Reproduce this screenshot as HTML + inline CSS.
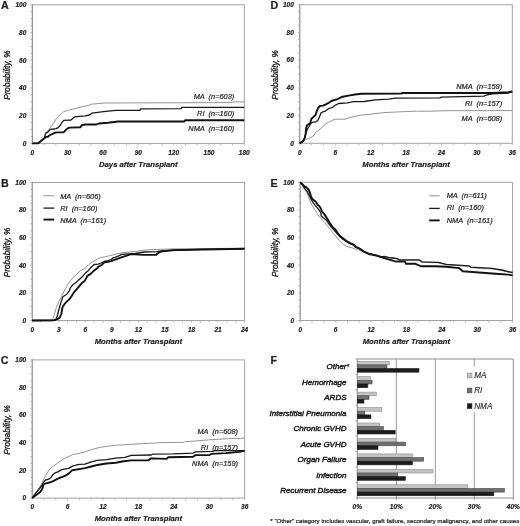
<!DOCTYPE html>
<html><head><meta charset="utf-8"><style>
html,body{margin:0;padding:0;background:#fff;}
svg{display:block;filter:blur(0.3px);}
text{font-family:"Liberation Sans",sans-serif;fill:#1a1a1a;white-space:pre;}
.tl{font-size:6.5px;font-weight:bold;font-style:italic;stroke:#1a1a1a;stroke-width:0.18px;}
.xt{font-size:7.7px;font-weight:bold;font-style:italic;stroke:#1a1a1a;stroke-width:0.18px;}
.yt{font-size:8.2px;font-style:italic;stroke:#1a1a1a;stroke-width:0.3px;}
.pl{font-size:10.7px;font-weight:bold;stroke:#1a1a1a;stroke-width:0.2px;}
.lg{font-size:7.4px;font-style:italic;fill:#222;stroke:#222;stroke-width:0.2px;}
.cl{font-size:8.0px;font-style:italic;stroke:#1a1a1a;stroke-width:0.45px;}
.fl{font-size:8.2px;font-style:italic;fill:#222;stroke:#222;stroke-width:0.12px;}
.fn{font-size:6.22px;stroke:#1a1a1a;stroke-width:0.22px;}
</style></head><body>
<svg width="520" height="526" viewBox="0 0 520 526">
<path d="M32.3,143.4H244.3V4.8H32.3" fill="none" stroke="#a2a2a2" stroke-width="1"/>
<path d="M32.3,143.9V4.3" fill="none" stroke="#828282" stroke-width="1.1"/>
<path d="M30.3,143.40H32.3M30.3,136.47H32.3M30.3,129.54H32.3M30.3,122.61H32.3M30.3,115.68H32.3M30.3,108.75H32.3M30.3,101.82H32.3M30.3,94.89H32.3M30.3,87.96H32.3M30.3,81.03H32.3M30.3,74.10H32.3M30.3,67.17H32.3M30.3,60.24H32.3M30.3,53.31H32.3M30.3,46.38H32.3M30.3,39.45H32.3M30.3,32.52H32.3M30.3,25.59H32.3M30.3,18.66H32.3M30.3,11.73H32.3M30.3,4.80H32.3M32.30,143.4V145.4M44.08,143.4V145.4M55.86,143.4V145.4M67.63,143.4V145.4M79.41,143.4V145.4M91.19,143.4V145.4M102.97,143.4V145.4M114.74,143.4V145.4M126.52,143.4V145.4M138.30,143.4V145.4M150.08,143.4V145.4M161.86,143.4V145.4M173.63,143.4V145.4M185.41,143.4V145.4M197.19,143.4V145.4M208.97,143.4V145.4M220.74,143.4V145.4M232.52,143.4V145.4M244.30,143.4V145.4" stroke="#a8a8a8" stroke-width="0.8" fill="none"/>
<text class="tl" x="26.3" y="145.70" text-anchor="end">0</text>
<text class="tl" x="26.3" y="117.98" text-anchor="end">20</text>
<text class="tl" x="26.3" y="90.26" text-anchor="end">40</text>
<text class="tl" x="26.3" y="62.54" text-anchor="end">60</text>
<text class="tl" x="26.3" y="34.82" text-anchor="end">80</text>
<text class="tl" x="26.3" y="7.10" text-anchor="end">100</text>
<text class="tl" x="32.30" y="154.70" text-anchor="middle">0</text>
<text class="tl" x="67.63" y="154.70" text-anchor="middle">30</text>
<text class="tl" x="102.97" y="154.70" text-anchor="middle">60</text>
<text class="tl" x="138.30" y="154.70" text-anchor="middle">90</text>
<text class="tl" x="173.63" y="154.70" text-anchor="middle">120</text>
<text class="tl" x="208.97" y="154.70" text-anchor="middle">150</text>
<text class="tl" x="244.30" y="154.70" text-anchor="middle">180</text>
<text class="xt" x="138.3" y="166.7" text-anchor="middle">Days after Transplant</text>
<text class="yt" transform="translate(10.1,75.1) rotate(-90)" text-anchor="middle">Probability, %</text>
<path d="M32.2,320.5H244.6V182.5H32.2" fill="none" stroke="#a2a2a2" stroke-width="1"/>
<path d="M32.2,321.0V182.0" fill="none" stroke="#828282" stroke-width="1.1"/>
<path d="M30.2,320.50H32.2M30.2,313.60H32.2M30.2,306.70H32.2M30.2,299.80H32.2M30.2,292.90H32.2M30.2,286.00H32.2M30.2,279.10H32.2M30.2,272.20H32.2M30.2,265.30H32.2M30.2,258.40H32.2M30.2,251.50H32.2M30.2,244.60H32.2M30.2,237.70H32.2M30.2,230.80H32.2M30.2,223.90H32.2M30.2,217.00H32.2M30.2,210.10H32.2M30.2,203.20H32.2M30.2,196.30H32.2M30.2,189.40H32.2M30.2,182.50H32.2M32.20,320.5V322.5M41.05,320.5V322.5M49.90,320.5V322.5M58.75,320.5V322.5M67.60,320.5V322.5M76.45,320.5V322.5M85.30,320.5V322.5M94.15,320.5V322.5M103.00,320.5V322.5M111.85,320.5V322.5M120.70,320.5V322.5M129.55,320.5V322.5M138.40,320.5V322.5M147.25,320.5V322.5M156.10,320.5V322.5M164.95,320.5V322.5M173.80,320.5V322.5M182.65,320.5V322.5M191.50,320.5V322.5M200.35,320.5V322.5M209.20,320.5V322.5M218.05,320.5V322.5M226.90,320.5V322.5M235.75,320.5V322.5M244.60,320.5V322.5" stroke="#a8a8a8" stroke-width="0.8" fill="none"/>
<text class="tl" x="26.2" y="322.80" text-anchor="end">0</text>
<text class="tl" x="26.2" y="295.20" text-anchor="end">20</text>
<text class="tl" x="26.2" y="267.60" text-anchor="end">40</text>
<text class="tl" x="26.2" y="240.00" text-anchor="end">60</text>
<text class="tl" x="26.2" y="212.40" text-anchor="end">80</text>
<text class="tl" x="26.2" y="184.80" text-anchor="end">100</text>
<text class="tl" x="32.20" y="331.80" text-anchor="middle">0</text>
<text class="tl" x="58.75" y="331.80" text-anchor="middle">3</text>
<text class="tl" x="85.30" y="331.80" text-anchor="middle">6</text>
<text class="tl" x="111.85" y="331.80" text-anchor="middle">9</text>
<text class="tl" x="138.40" y="331.80" text-anchor="middle">12</text>
<text class="tl" x="164.95" y="331.80" text-anchor="middle">15</text>
<text class="tl" x="191.50" y="331.80" text-anchor="middle">18</text>
<text class="tl" x="218.05" y="331.80" text-anchor="middle">21</text>
<text class="tl" x="244.60" y="331.80" text-anchor="middle">24</text>
<text class="xt" x="138.4" y="343.8" text-anchor="middle">Months after Transplant</text>
<text class="yt" transform="translate(10.0,252.5) rotate(-90)" text-anchor="middle">Probability, %</text>
<path d="M32.2,498.1H244.7V359.9H32.2" fill="none" stroke="#a2a2a2" stroke-width="1"/>
<path d="M32.2,498.6V359.4" fill="none" stroke="#828282" stroke-width="1.1"/>
<path d="M30.2,498.10H32.2M30.2,491.19H32.2M30.2,484.28H32.2M30.2,477.37H32.2M30.2,470.46H32.2M30.2,463.55H32.2M30.2,456.64H32.2M30.2,449.73H32.2M30.2,442.82H32.2M30.2,435.91H32.2M30.2,429.00H32.2M30.2,422.09H32.2M30.2,415.18H32.2M30.2,408.27H32.2M30.2,401.36H32.2M30.2,394.45H32.2M30.2,387.54H32.2M30.2,380.63H32.2M30.2,373.72H32.2M30.2,366.81H32.2M30.2,359.90H32.2M32.20,498.1V500.1M44.01,498.1V500.1M55.81,498.1V500.1M67.62,498.1V500.1M79.42,498.1V500.1M91.23,498.1V500.1M103.03,498.1V500.1M114.84,498.1V500.1M126.64,498.1V500.1M138.45,498.1V500.1M150.26,498.1V500.1M162.06,498.1V500.1M173.87,498.1V500.1M185.67,498.1V500.1M197.48,498.1V500.1M209.28,498.1V500.1M221.09,498.1V500.1M232.89,498.1V500.1M244.70,498.1V500.1" stroke="#a8a8a8" stroke-width="0.8" fill="none"/>
<text class="tl" x="26.2" y="500.40" text-anchor="end">0</text>
<text class="tl" x="26.2" y="472.76" text-anchor="end">20</text>
<text class="tl" x="26.2" y="445.12" text-anchor="end">40</text>
<text class="tl" x="26.2" y="417.48" text-anchor="end">60</text>
<text class="tl" x="26.2" y="389.84" text-anchor="end">80</text>
<text class="tl" x="26.2" y="362.20" text-anchor="end">100</text>
<text class="tl" x="32.20" y="509.40" text-anchor="middle">0</text>
<text class="tl" x="67.62" y="509.40" text-anchor="middle">6</text>
<text class="tl" x="103.03" y="509.40" text-anchor="middle">12</text>
<text class="tl" x="138.45" y="509.40" text-anchor="middle">18</text>
<text class="tl" x="173.87" y="509.40" text-anchor="middle">24</text>
<text class="tl" x="209.28" y="509.40" text-anchor="middle">30</text>
<text class="tl" x="244.70" y="509.40" text-anchor="middle">36</text>
<text class="xt" x="138.4" y="521.4" text-anchor="middle">Months after Transplant</text>
<text class="yt" transform="translate(10.0,430.0) rotate(-90)" text-anchor="middle">Probability, %</text>
<path d="M299.8,143.3H512.3V4.7H299.8" fill="none" stroke="#a2a2a2" stroke-width="1"/>
<path d="M299.8,143.8V4.2" fill="none" stroke="#828282" stroke-width="1.1"/>
<path d="M297.8,143.30H299.8M297.8,136.37H299.8M297.8,129.44H299.8M297.8,122.51H299.8M297.8,115.58H299.8M297.8,108.65H299.8M297.8,101.72H299.8M297.8,94.79H299.8M297.8,87.86H299.8M297.8,80.93H299.8M297.8,74.00H299.8M297.8,67.07H299.8M297.8,60.14H299.8M297.8,53.21H299.8M297.8,46.28H299.8M297.8,39.35H299.8M297.8,32.42H299.8M297.8,25.49H299.8M297.8,18.56H299.8M297.8,11.63H299.8M297.8,4.70H299.8M299.80,143.3V145.3M311.61,143.3V145.3M323.41,143.3V145.3M335.22,143.3V145.3M347.02,143.3V145.3M358.83,143.3V145.3M370.63,143.3V145.3M382.44,143.3V145.3M394.24,143.3V145.3M406.05,143.3V145.3M417.86,143.3V145.3M429.66,143.3V145.3M441.47,143.3V145.3M453.27,143.3V145.3M465.08,143.3V145.3M476.88,143.3V145.3M488.69,143.3V145.3M500.49,143.3V145.3M512.30,143.3V145.3" stroke="#a8a8a8" stroke-width="0.8" fill="none"/>
<text class="tl" x="293.8" y="145.60" text-anchor="end">0</text>
<text class="tl" x="293.8" y="117.88" text-anchor="end">20</text>
<text class="tl" x="293.8" y="90.16" text-anchor="end">40</text>
<text class="tl" x="293.8" y="62.44" text-anchor="end">60</text>
<text class="tl" x="293.8" y="34.72" text-anchor="end">80</text>
<text class="tl" x="293.8" y="7.00" text-anchor="end">100</text>
<text class="tl" x="299.80" y="154.60" text-anchor="middle">0</text>
<text class="tl" x="335.22" y="154.60" text-anchor="middle">6</text>
<text class="tl" x="370.63" y="154.60" text-anchor="middle">12</text>
<text class="tl" x="406.05" y="154.60" text-anchor="middle">18</text>
<text class="tl" x="441.47" y="154.60" text-anchor="middle">24</text>
<text class="tl" x="476.88" y="154.60" text-anchor="middle">30</text>
<text class="tl" x="512.30" y="154.60" text-anchor="middle">36</text>
<text class="xt" x="406.0" y="166.6" text-anchor="middle">Months after Transplant</text>
<text class="yt" transform="translate(277.6,75.0) rotate(-90)" text-anchor="middle">Probability, %</text>
<path d="M300.2,320.5H512.6V182.3H300.2" fill="none" stroke="#a2a2a2" stroke-width="1"/>
<path d="M300.2,321.0V181.8" fill="none" stroke="#828282" stroke-width="1.1"/>
<path d="M298.2,320.50H300.2M298.2,313.59H300.2M298.2,306.68H300.2M298.2,299.77H300.2M298.2,292.86H300.2M298.2,285.95H300.2M298.2,279.04H300.2M298.2,272.13H300.2M298.2,265.22H300.2M298.2,258.31H300.2M298.2,251.40H300.2M298.2,244.49H300.2M298.2,237.58H300.2M298.2,230.67H300.2M298.2,223.76H300.2M298.2,216.85H300.2M298.2,209.94H300.2M298.2,203.03H300.2M298.2,196.12H300.2M298.2,189.21H300.2M298.2,182.30H300.2M300.20,320.5V322.5M312.00,320.5V322.5M323.80,320.5V322.5M335.60,320.5V322.5M347.40,320.5V322.5M359.20,320.5V322.5M371.00,320.5V322.5M382.80,320.5V322.5M394.60,320.5V322.5M406.40,320.5V322.5M418.20,320.5V322.5M430.00,320.5V322.5M441.80,320.5V322.5M453.60,320.5V322.5M465.40,320.5V322.5M477.20,320.5V322.5M489.00,320.5V322.5M500.80,320.5V322.5M512.60,320.5V322.5" stroke="#a8a8a8" stroke-width="0.8" fill="none"/>
<text class="tl" x="294.2" y="322.80" text-anchor="end">0</text>
<text class="tl" x="294.2" y="295.16" text-anchor="end">20</text>
<text class="tl" x="294.2" y="267.52" text-anchor="end">40</text>
<text class="tl" x="294.2" y="239.88" text-anchor="end">60</text>
<text class="tl" x="294.2" y="212.24" text-anchor="end">80</text>
<text class="tl" x="294.2" y="184.60" text-anchor="end">100</text>
<text class="tl" x="300.20" y="331.80" text-anchor="middle">0</text>
<text class="tl" x="335.60" y="331.80" text-anchor="middle">6</text>
<text class="tl" x="371.00" y="331.80" text-anchor="middle">12</text>
<text class="tl" x="406.40" y="331.80" text-anchor="middle">18</text>
<text class="tl" x="441.80" y="331.80" text-anchor="middle">24</text>
<text class="tl" x="477.20" y="331.80" text-anchor="middle">30</text>
<text class="tl" x="512.60" y="331.80" text-anchor="middle">36</text>
<text class="xt" x="406.4" y="343.8" text-anchor="middle">Months after Transplant</text>
<text class="yt" transform="translate(278.0,252.4) rotate(-90)" text-anchor="middle">Probability, %</text>
<polyline points="32.3,143.4 38.2,143.2 44.4,138.3 45.5,134.5 46.5,132.1 48.5,130 51.3,126.5 54.1,122.4 56.2,118.9 58.9,116.2 62.4,112.7 64,111.5 69.2,110 76.2,108.3 83.1,106.5 88,105.5 91.2,104.2 105,103.0 160,102.8 232,102.6 232.5,101.9 244.3,101.9" fill="none" stroke="#939393" stroke-width="1.0" stroke-linejoin="round"/>
<polyline points="32.3,143.4 38.2,143.2 44.4,138.3 45.1,134.9 46.1,132.8 47.9,132.1 48.9,130.7 50.6,129.3 53.4,129 56.2,128.6 58.2,127.6 60.3,125.2 62,122.4 63.8,120.3 71,120 74.4,116.9 79.6,116.3 85,115.8 89.6,115 91.9,113.2 103.5,111.6 115.8,110.4 140,110.4 140.8,108.8 181.2,108.6 181.8,107.4 244.3,107.4" fill="none" stroke="#1a1a1a" stroke-width="1.3" stroke-linejoin="round"/>
<polyline points="32.3,143.4 38.2,143.2 44.4,138.3 45.8,136.9 47.9,136.9 49.2,135.5 52,134.2 54.8,132.8 56.9,132.4 63.1,132.4 64.5,131.4 66.5,129.3 68.6,127.9 70,127.6 80.2,127.3 81.9,125.2 85,124.5 96.5,124.5 98.8,123.5 108,122.7 118.1,121.5 184.5,121.5 185,120.3 244.3,120.3" fill="none" stroke="#111" stroke-width="1.9" stroke-linejoin="round"/>
<polyline points="32.2,320.5 52.7,320.3 53,318.4 54.5,313.5 56.4,307.5 58.9,301.6 61.9,295.7 64.8,289.8 68.8,282.8 72.8,277.9 76.7,274 80.7,270.5 85,268.4 88.8,264.5 92.7,261.8 96.5,259.5 100.4,257.6 105,256.8 109.6,255.7 115,254.4 120.8,253 129.4,252 136.2,251.3 143.8,250.1 153.5,249.6 165,249.1 175,248.9 200,248.6 244.6,248.2" fill="none" stroke="#939393" stroke-width="1.0" stroke-linejoin="round"/>
<polyline points="32.2,320.5 55,320.3 56,319.4 57.4,315.5 58.9,309.5 60.9,302.6 62.9,296.7 66.8,294.2 69.3,290.8 70.3,287.8 72.8,284.8 75.7,282.8 78.7,279.9 82.6,276.4 85,273.6 88.1,270.8 91.2,267.2 94.2,264.5 98.1,264.2 101.2,263 104.2,261.5 108.1,260.7 111.2,259.5 113.5,257.6 115,257.3 118.8,255.9 121.7,254.4 128.5,253.9 135.2,253.5 141,252.5 143.8,252 157.3,251.7 159.2,251.1 165,250.6 175,249.8 182,250 200,249.3 244.6,248.6" fill="none" stroke="#1a1a1a" stroke-width="1.3" stroke-linejoin="round"/>
<polyline points="32.2,320.5 54,320.2 57.9,318.9 59.9,317.4 61.4,313.5 62.4,307.5 64.8,303.6 67.8,300.6 69.8,298.7 71.8,295.7 73.7,292.7 76.2,289.8 78.7,286.8 81.6,283.3 84.6,280.9 86.5,277.6 87.3,275.9 90.4,274.2 93.5,271.1 96.5,268.8 98.8,266.5 101.9,264.9 103.5,263 105,262.2 108.1,261.8 111.2,261.1 115,259.7 118.8,258.3 122.7,256.8 127.5,255.4 130.4,254.4 135.2,254.4 142.9,254.9 156.3,254.9 157.3,253.5 159.2,252.5 161.2,251.5 165,251.1 175,250.1 244.6,248.8" fill="none" stroke="#111" stroke-width="1.9" stroke-linejoin="round"/>
<polyline points="32.2,498.1 36.8,491.5 40,486.8 42.4,482 44.8,477.2 48,471.6 51.2,467.6 56,464.4 60,461.2 65.5,458 72.6,454.6 79.3,453.3 85,451.9 91.2,449.6 100.4,447.3 112.7,445.5 128.1,444.5 143.5,443.6 160,442.7 184,442.3 184.6,441.6 193,441.2 209.6,439.8 226.1,438.8 244.7,438.1" fill="none" stroke="#939393" stroke-width="1.0" stroke-linejoin="round"/>
<polyline points="32.2,498.1 35.2,494 38.4,490 41.6,486 43.6,482 45.6,480 48.8,479.2 51.2,477.2 52.8,474.8 55.2,472.8 58.4,471.6 61.6,469.6 65.5,468.8 68.7,468.4 72,466.4 73.9,465.7 79.3,464.4 85,464.2 91.2,461.9 97.3,460.4 106.5,459.6 115.8,458.1 125,457.3 131.2,455.3 151.2,455 152.7,454.2 173.2,453.9 193,453.1 195.5,451.9 212.9,451.4 214.5,450.6 236,450.6 244.7,450.6" fill="none" stroke="#1a1a1a" stroke-width="1.3" stroke-linejoin="round"/>
<polyline points="32.2,498.1 34.4,496.3 37.6,494 40,492.3 41.6,490 42.8,487.6 43.2,485.2 44.8,483.6 48,482.8 51.2,482 53.6,480.8 56,479.6 59.2,478 62.4,476.8 65.5,475.6 68.7,473.6 72,470.4 73.9,470 80.6,468.9 85,468.1 91.2,466.5 97.3,465 106.5,463.5 115.8,462.7 123.5,461.2 131.2,460.4 148.1,460.4 151.2,458.4 166.6,458.9 168.3,457.2 193,456.7 195.5,455.1 209.6,455.1 211.2,453.9 226.1,453.1 239.3,451.9 242.6,451.1 244.7,450.6" fill="none" stroke="#111" stroke-width="1.9" stroke-linejoin="round"/>
<polyline points="299.8,143.3 303.1,141.1 307.4,138.9 310.8,137.6 313.4,135.9 315.1,133.4 317.7,130.8 321.1,128.2 325,124.5 329.6,121.5 335,119.2 345,119.2 348.1,118.1 355.8,116.2 361.2,115 367.3,114.6 382.7,112.7 398.1,111.9 416.5,111.2 430,111.2 446,110.7 512.3,110.6" fill="none" stroke="#939393" stroke-width="1.0" stroke-linejoin="round"/>
<polyline points="299.8,143.3 303.1,141.1 304.8,137.6 306.1,132.5 307.4,129.1 309.1,126.5 310.8,123.5 312.5,122.2 315.1,122.2 317.7,120.5 319.4,117.1 321.1,112.8 323.7,111.5 325.4,111.1 328.8,108.5 332.7,107.3 335,105.4 338.7,103.5 347.4,102.8 353.6,101.6 364.2,101.5 375,99.9 388.8,99.2 395,98.1 439.8,97.9 441.4,97.1 483.9,96.2 487.2,94.9 492.1,93.8 508.4,93 512.3,91.7" fill="none" stroke="#1a1a1a" stroke-width="1.3" stroke-linejoin="round"/>
<polyline points="299.8,143.3 303.1,141.1 304.8,137.6 305.7,133.4 306.1,128.2 307,125.2 308.3,124.4 310.4,123.1 310.8,120.5 311.7,118.4 313.8,116.7 315.5,115 316.8,111.1 318.1,108.1 319.8,106 322.8,105.6 325.4,104.7 327.5,103.4 330,102.1 331.3,101 337.5,99.1 342.4,96.7 349.9,95.4 355,94.5 361.2,93.8 401.2,93.5 402.7,93 492.1,93 508.4,92.2 512.3,91.5" fill="none" stroke="#111" stroke-width="1.9" stroke-linejoin="round"/>
<polyline points="300.2,182.3 303.8,187.6 306.6,192.4 308.5,197.1 310.4,201.9 312.3,205.7 314.7,209.5 317.1,213.3 319.4,216.6 321.8,219.4 324.7,222.5 327.8,226.3 330.6,229.8 333.4,233.3 336.3,236.8 339.1,240.3 342.6,243.8 346.1,245.9 349.6,247.3 353.1,248.1 356.6,249.5 360,250.5 368.7,254 377,256 385,257 393,258.2 397.2,258.6 399,260.4 419.2,260.4 422,262.3 438.2,262.8 446.3,264.8 469.2,266.4 470.8,267.7 492.1,268.9 501.9,270.5 508.4,272.2 512.6,273" fill="none" stroke="#939393" stroke-width="1.0" stroke-linejoin="round"/>
<polyline points="300.2,182.3 302.8,185.2 304.7,188.6 307.1,191.4 309.5,195.7 310.9,199 312.3,201.4 314.7,204.7 317.1,207.6 319.4,210.4 320.9,213.3 321.3,216.1 323.7,218 326.1,219.9 327.5,221.8 329.4,224.7 331.8,227.5 334.5,230.5 337,233.5 339.8,236.5 342.6,239 346.1,241.5 349.6,243.5 353.1,245 355.9,247.5 360,248.7 363.5,251.2 368.7,253.4 373,254.5 377.3,255.6 380.8,256.9 384.2,256.4 388.5,257.3 392.9,258 397.2,258.6 399,259.9 419.2,259.9 422,261.8 438.2,262.3 446.3,264.3 469.2,265.9 470.8,267.2 492.1,268.4 501.9,270 508.4,271.7 512.6,272.5" fill="none" stroke="#1a1a1a" stroke-width="1.3" stroke-linejoin="round"/>
<polyline points="300.2,182.3 303.8,185.7 306.6,187.6 308.5,189.5 309.9,192.4 310.9,196.2 312.3,199 314.2,200.4 316.1,201.9 317.5,204.7 319,205.7 320.9,208.5 321.8,211.4 323.7,213.3 325.6,216.1 327.5,219 329.4,222.3 330.6,224.1 332.7,227.2 335.5,229.8 337.7,233 339.8,235.8 342.6,238 346.1,240.8 349.6,242.9 353.1,244.3 355.9,246.8 360,248.8 363.5,251.5 368.7,254 373,254.9 377.3,255.8 380.8,257 386,258.6 394.6,261.2 398,261.6 405,261.6 406,263.8 415.4,263.8 420.8,266.2 435,266.2 446.3,266.8 459.4,268.1 462.7,271.3 475.8,272.2 495.4,273.8 508.4,274.6 512.6,275.4" fill="none" stroke="#111" stroke-width="1.9" stroke-linejoin="round"/>
<text class="pl" x="0.9" y="8.9">A</text>
<text class="pl" x="1.0" y="186.9">B</text>
<text class="pl" x="0.8" y="363.6">C</text>
<text class="pl" x="270.4" y="8.9">D</text>
<text class="pl" x="270.4" y="187.0">E</text>
<text class="pl" x="270.4" y="363.9">F</text>
<text class="lg" x="234.3" y="99.4" text-anchor="end">MA  (n=603)</text>
<text class="lg" x="234.3" y="116.2" text-anchor="end">RI  (n=160)</text>
<text class="lg" x="234.3" y="131.0" text-anchor="end">NMA  (n=160)</text>
<text class="lg" x="238.0" y="434.1" text-anchor="end">MA  (n=608)</text>
<text class="lg" x="238.0" y="449.5" text-anchor="end">RI  (n=157)</text>
<text class="lg" x="238.0" y="466.0" text-anchor="end">NMA  (n=159)</text>
<text class="lg" x="502.2" y="89.4" text-anchor="end">NMA  (n=159)</text>
<text class="lg" x="502.2" y="106.4" text-anchor="end">RI  (n=157)</text>
<text class="lg" x="502.2" y="121.2" text-anchor="end">MA  (n=608)</text>
<path d="M43.5,195.8H54.2" stroke="#939393" stroke-width="1.0"/>
<text class="lg" x="60.2" y="198.5">MA  (n=606)</text>
<path d="M43.5,208.1H54.2" stroke="#1a1a1a" stroke-width="1.3"/>
<text class="lg" x="60.2" y="210.6">RI  (n=160)</text>
<path d="M43.5,219.6H54.2" stroke="#111" stroke-width="1.9"/>
<text class="lg" x="60.2" y="222.7">NMA  (n=161)</text>
<path d="M429.2,195.8H439.7" stroke="#939393" stroke-width="1.0"/>
<text class="lg" x="446.7" y="198.1">MA  (n=611)</text>
<path d="M429.2,208.4H439.7" stroke="#1a1a1a" stroke-width="1.3"/>
<text class="lg" x="446.7" y="210.4">RI  (n=160)</text>
<path d="M429.2,220.4H439.7" stroke="#111" stroke-width="1.9"/>
<text class="lg" x="446.7" y="222.7">NMA  (n=161)</text>
<path d="M396.30,359.0V498.0M435.30,359.0V498.0M474.30,359.0V366.3M474.30,412.5V498.0" stroke="#8c8c8c" stroke-width="0.9" fill="none"/>
<path d="M357.3,498.0V359.0H513.30V498.0H357.3" fill="none" stroke="#8c8c8c" stroke-width="1"/>
<path d="M355.3,359.00H357.3M355.3,374.44H357.3M355.3,389.89H357.3M355.3,405.33H357.3M355.3,420.78H357.3M355.3,436.22H357.3M355.3,451.67H357.3M355.3,467.11H357.3M355.3,482.56H357.3M355.3,498.00H357.3M357.30,498.0V500.0M396.30,498.0V500.0M435.30,498.0V500.0M474.30,498.0V500.0M513.30,498.0V500.0" stroke="#8c8c8c" stroke-width="0.8" fill="none"/>
<rect x="357.3" y="361.25" width="31.98" height="3.65" fill="#c4c4c4" stroke="#8a8a8a" stroke-width="0.6"/>
<rect x="357.3" y="364.90" width="29.64" height="3.65" fill="#707070" stroke="#4a4a4a" stroke-width="0.6"/>
<rect x="357.3" y="368.55" width="61.62" height="3.65" fill="#1c1c1c" stroke="#1c1c1c" stroke-width="0.6"/>
<text class="cl" x="346.5" y="369.42" text-anchor="end">Other</text>
<rect x="357.3" y="376.69" width="13.26" height="3.65" fill="#c4c4c4" stroke="#8a8a8a" stroke-width="0.6"/>
<rect x="357.3" y="380.34" width="14.82" height="3.65" fill="#707070" stroke="#4a4a4a" stroke-width="0.6"/>
<rect x="357.3" y="383.99" width="10.53" height="3.65" fill="#1c1c1c" stroke="#1c1c1c" stroke-width="0.6"/>
<text class="cl" x="346.5" y="384.87" text-anchor="end">Hemorrhage</text>
<rect x="357.3" y="392.14" width="19.11" height="3.65" fill="#c4c4c4" stroke="#8a8a8a" stroke-width="0.6"/>
<rect x="357.3" y="395.79" width="11.70" height="3.65" fill="#707070" stroke="#4a4a4a" stroke-width="0.6"/>
<rect x="357.3" y="399.44" width="6.63" height="3.65" fill="#1c1c1c" stroke="#1c1c1c" stroke-width="0.6"/>
<text class="cl" x="346.5" y="400.31" text-anchor="end">ARDS</text>
<rect x="357.3" y="407.58" width="24.57" height="3.65" fill="#c4c4c4" stroke="#8a8a8a" stroke-width="0.6"/>
<rect x="357.3" y="411.23" width="7.41" height="3.65" fill="#707070" stroke="#4a4a4a" stroke-width="0.6"/>
<rect x="357.3" y="414.88" width="13.65" height="3.65" fill="#1c1c1c" stroke="#1c1c1c" stroke-width="0.6"/>
<text class="cl" x="346.5" y="415.76" text-anchor="end">Interstitial Pneumonia</text>
<rect x="357.3" y="423.02" width="22.23" height="3.65" fill="#c4c4c4" stroke="#8a8a8a" stroke-width="0.6"/>
<rect x="357.3" y="426.67" width="26.13" height="3.65" fill="#707070" stroke="#4a4a4a" stroke-width="0.6"/>
<rect x="357.3" y="430.32" width="37.83" height="3.65" fill="#1c1c1c" stroke="#1c1c1c" stroke-width="0.6"/>
<text class="cl" x="346.5" y="431.20" text-anchor="end">Chronic GVHD</text>
<rect x="357.3" y="438.47" width="38.22" height="3.65" fill="#c4c4c4" stroke="#8a8a8a" stroke-width="0.6"/>
<rect x="357.3" y="442.12" width="48.36" height="3.65" fill="#707070" stroke="#4a4a4a" stroke-width="0.6"/>
<rect x="357.3" y="445.77" width="20.67" height="3.65" fill="#1c1c1c" stroke="#1c1c1c" stroke-width="0.6"/>
<text class="cl" x="346.5" y="446.64" text-anchor="end">Acute GVHD</text>
<rect x="357.3" y="453.91" width="54.99" height="3.65" fill="#c4c4c4" stroke="#8a8a8a" stroke-width="0.6"/>
<rect x="357.3" y="457.56" width="66.30" height="3.65" fill="#707070" stroke="#4a4a4a" stroke-width="0.6"/>
<rect x="357.3" y="461.21" width="54.99" height="3.65" fill="#1c1c1c" stroke="#1c1c1c" stroke-width="0.6"/>
<text class="cl" x="346.5" y="462.09" text-anchor="end">Organ Failure</text>
<rect x="357.3" y="469.36" width="75.66" height="3.65" fill="#c4c4c4" stroke="#8a8a8a" stroke-width="0.6"/>
<rect x="357.3" y="473.01" width="40.56" height="3.65" fill="#707070" stroke="#4a4a4a" stroke-width="0.6"/>
<rect x="357.3" y="476.66" width="47.97" height="3.65" fill="#1c1c1c" stroke="#1c1c1c" stroke-width="0.6"/>
<text class="cl" x="346.5" y="477.53" text-anchor="end">Infection</text>
<rect x="357.3" y="484.80" width="109.98" height="3.65" fill="#c4c4c4" stroke="#8a8a8a" stroke-width="0.6"/>
<rect x="357.3" y="488.45" width="147.03" height="3.65" fill="#707070" stroke="#4a4a4a" stroke-width="0.6"/>
<rect x="357.3" y="492.10" width="136.50" height="3.65" fill="#1c1c1c" stroke="#1c1c1c" stroke-width="0.6"/>
<text class="cl" x="346.5" y="492.98" text-anchor="end">Recurrent Disease</text>
<text class="cl" x="346.4" y="369.32" style="font-size:7px;stroke-width:0.25px">*</text>
<text class="tl" x="357.30" y="508.9" text-anchor="middle">0%</text>
<text class="tl" x="396.30" y="508.9" text-anchor="middle">10%</text>
<text class="tl" x="435.30" y="508.9" text-anchor="middle">20%</text>
<text class="tl" x="474.30" y="508.9" text-anchor="middle">30%</text>
<text class="tl" x="513.30" y="508.9" text-anchor="middle">40%</text>
<rect x="467.3" y="373.1" width="4.6" height="4.8" fill="#c4c4c4" stroke="#8a8a8a" stroke-width="0.6"/>
<text class="fl" x="474.2" y="378.40">MA</text>
<rect x="467.3" y="388.1" width="4.6" height="4.8" fill="#707070" stroke="#4a4a4a" stroke-width="0.6"/>
<text class="fl" x="474.2" y="393.40">RI</text>
<rect x="467.3" y="403.75" width="4.6" height="4.8" fill="#1c1c1c" stroke="#1c1c1c" stroke-width="0.6"/>
<text class="fl" x="474.2" y="409.05">NMA</text>
<text class="fn" x="270.3" y="523.4">* “Other” category includes vascular, graft failure, secondary malignancy, and other causes.</text>
</svg>
</body></html>
